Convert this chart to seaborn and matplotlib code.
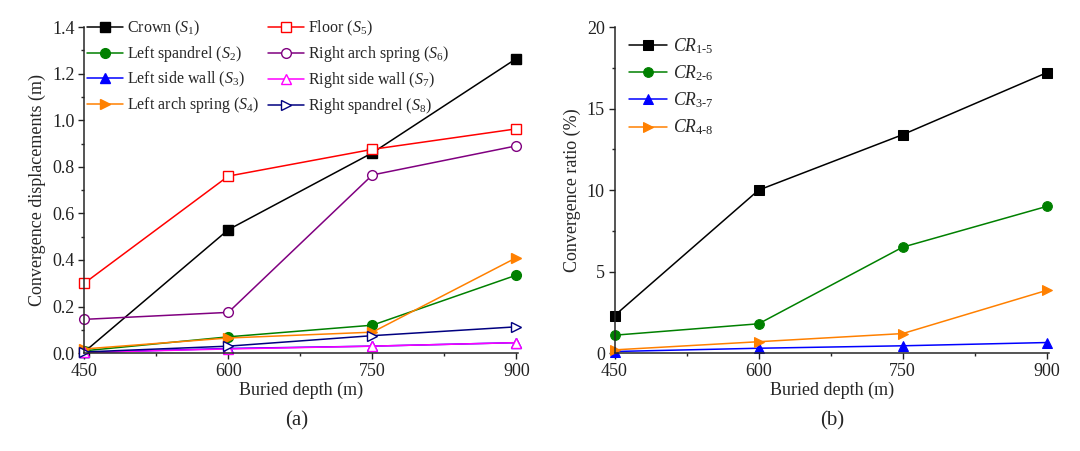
"""Convergence displacement and ratio versus buried depth, two panels."""

import matplotlib

matplotlib.use("Agg")

import matplotlib.pyplot as plt
import seaborn as sns
from matplotlib.ticker import FormatStrFormatter, MultipleLocator

depth = [450, 600, 750, 900]

# panel (a): convergence displacement (m)
crown_s1 = [0.005, 0.53, 0.86, 1.265]
left_spandrel_s2 = [0.010, 0.070, 0.120, 0.335]
left_side_wall_s3 = [0.003, 0.020, 0.030, 0.045]
left_arch_spring_s4 = [0.018, 0.065, 0.090, 0.410]
floor_s5 = [0.300, 0.760, 0.875, 0.963]
right_arch_spring_s6 = [0.145, 0.175, 0.765, 0.890]
right_side_wall_s7 = [0.003, 0.018, 0.030, 0.045]
right_spandrel_s8 = [0.005, 0.030, 0.075, 0.113]

# panel (b): convergence ratio (%)
cr_1_5 = [2.3, 10.0, 13.4, 17.2]
cr_2_6 = [1.1, 1.8, 6.5, 9.0]
cr_3_7 = [0.1, 0.3, 0.45, 0.65]
cr_4_8 = [0.2, 0.7, 1.2, 3.85]

series_a = [
    (r"Crown ($S_1$)", crown_s1, "black", "s", True),
    (r"Left spandrel ($S_2$)", left_spandrel_s2, "#008000", "o", True),
    (r"Left side wall ($S_3$)", left_side_wall_s3, "#0000ff", "^", True),
    (r"Left arch spring ($S_4$)", left_arch_spring_s4, "#ff8000", ">", True),
    (r"Floor ($S_5$)", floor_s5, "#ff0000", "s", False),
    (r"Right arch spring ($S_6$)", right_arch_spring_s6, "#800080", "o", False),
    (r"Right side wall ($S_7$)", right_side_wall_s7, "#ff00ff", "^", False),
    (r"Right spandrel ($S_8$)", right_spandrel_s8, "#000080", ">", False),
]
series_b = [
    (r"$CR_{\mathrm{1\text{-}5}}$", cr_1_5, "black", "s"),
    (r"$CR_{\mathrm{2\text{-}6}}$", cr_2_6, "#008000", "o"),
    (r"$CR_{\mathrm{3\text{-}7}}$", cr_3_7, "#0000ff", "^"),
    (r"$CR_{\mathrm{4\text{-}8}}$", cr_4_8, "#ff8000", ">"),
]

sns.set_theme(style="ticks")
plt.rcParams["font.family"] = ["Liberation Serif", "DejaVu Serif"]
plt.rcParams["mathtext.fontset"] = "custom"
plt.rcParams["mathtext.rm"] = "Liberation Serif"
plt.rcParams["mathtext.it"] = "Liberation Serif:italic"
plt.rcParams["axes.linewidth"] = 1.1

fig = plt.figure(figsize=(10.8, 4.51), dpi=100)
ax_a = fig.add_axes([0.078, 0.217, 0.402, 0.723])
ax_b = fig.add_axes([0.569, 0.217, 0.402, 0.723])

for label, values, color, marker, filled in series_a:
    sns.lineplot(
        x=depth, y=values, ax=ax_a, color=color, marker=marker, markersize=7,
        markerfacecolor=color if filled else "white", markeredgecolor=color,
        markeredgewidth=1.0, linewidth=1.1, label=label, clip_on=False,
    )

for label, values, color, marker in series_b:
    sns.lineplot(
        x=depth, y=values, ax=ax_b, color=color, marker=marker, markersize=7,
        markerfacecolor=color, markeredgecolor=color, linewidth=1.1,
        label=label, clip_on=False,
    )

for ax in (ax_a, ax_b):
    sns.despine(ax=ax)
    ax.set_xlim(450, 902)
    ax.xaxis.set_major_locator(MultipleLocator(150))
    ax.xaxis.set_minor_locator(MultipleLocator(75))
    ax.tick_params(which="major", direction="out", length=4, width=1.0,
                   labelsize=13, colors="#222222", pad=3)
    ax.tick_params(which="minor", direction="out", length=2.5, width=1.0)
    ax.set_xlabel("Buried depth (m)", fontsize=13, labelpad=1)

ax_a.set_ylim(0, 1.4)
ax_a.yaxis.set_major_locator(MultipleLocator(0.2))
ax_a.yaxis.set_minor_locator(MultipleLocator(0.1))
ax_a.yaxis.set_major_formatter(FormatStrFormatter("%.1f"))
ax_a.set_ylabel("Convergence displacements (m)", fontsize=13, labelpad=4)
ax_a.legend(ncol=2, loc="upper left", frameon=False, fontsize=11.5,
            bbox_to_anchor=(0.0, 1.035), handlelength=2.25, handletextpad=0.25,
            labelspacing=0.38, columnspacing=0.55, borderpad=0.1,
            borderaxespad=0.1)

ax_b.set_ylim(0, 20)
ax_b.yaxis.set_major_locator(MultipleLocator(5))
ax_b.yaxis.set_minor_locator(MultipleLocator(2.5))
ax_b.set_ylabel("Convergence ratio (%)", fontsize=13, labelpad=4)
ax_b.legend(loc="upper left", frameon=False, fontsize=12.7,
            bbox_to_anchor=(0.012, 1.0), handlelength=2.2, handletextpad=0.3,
            labelspacing=0.43, borderaxespad=0.1)

fig.text(0.275, 0.066, "(a)", fontsize=15, ha="center", va="center")
fig.text(0.771, 0.066, "(b)", fontsize=15, ha="center", va="center")

fig.savefig("out.png", dpi=100)
